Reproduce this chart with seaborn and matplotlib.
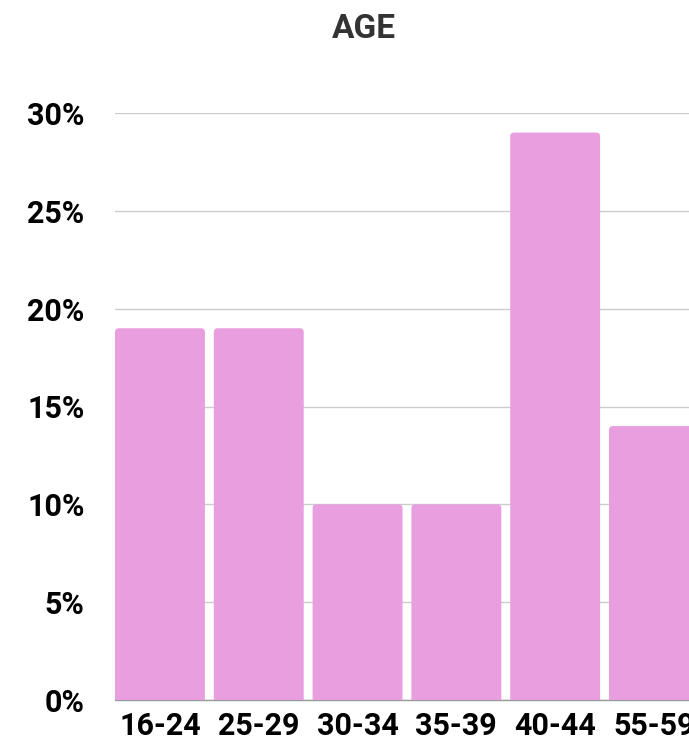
import matplotlib
matplotlib.use("Agg")
import matplotlib.pyplot as plt
import seaborn as sns
import pandas as pd
from matplotlib.patches import FancyBboxPatch
from matplotlib.ticker import FuncFormatter

categories = ["16-24", "25-29", "30-34", "35-39", "40-44", "55-59"]
values = [19, 19, 10, 10, 29, 14]
yticks = [0, 5, 10, 15, 20, 25, 30]

sns.set_theme(style="white")
plt.rcParams["font.family"] = ["Roboto", "DejaVu Sans"]

df = pd.DataFrame({"age": categories, "pct": values})

fig = plt.figure(figsize=(6.89, 7.40), dpi=100)
W, H = 689, 740
left_px, base_px, top_px = 115, 700, 113
unit_px = 98.8
ax = fig.add_axes([left_px / W, (H - base_px) / H, 7 * unit_px / W, (base_px - top_px) / H])

color = "#E89EDF"
sns.barplot(data=df, x="age", y="pct", color=color, width=0.91, ax=ax, saturation=1)
ax.set_xlim(-0.455, 6.545)
ax.set_ylim(0, 30)

# replace bars with rounded-top bars
bars = list(ax.patches)
r_px = 4
r_x = r_px / unit_px
r_y = r_px / ((base_px - top_px) / 30)
for p in bars:
    x0, w, h = p.get_x(), p.get_width(), p.get_height()
    p.set_visible(False)
    fb = FancyBboxPatch((x0, -2), w, h + 2,
                        boxstyle=f"round,pad=0,rounding_size={r_x}",
                        mutation_aspect=r_y / r_x,
                        facecolor=color, edgecolor="none", zorder=3)
    ax.add_patch(fb)

ax.set_yticks(yticks)
ax.yaxis.set_major_formatter(FuncFormatter(lambda v, _: f"{int(v)}%"))
ax.grid(axis="y", color="#cccccc", linewidth=1, zorder=0)
ax.set_axisbelow(True)
for s in ["top", "right", "left"]:
    ax.spines[s].set_visible(False)
ax.spines["bottom"].set_color("#999999")
ax.spines["bottom"].set_linewidth(1)
ax.spines["bottom"].set_zorder(1)
ax.tick_params(axis="both", length=0, labelsize=22, colors="black")
ax.tick_params(axis="y", pad=22)
ax.tick_params(axis="x", pad=8)
for lbl in ax.get_xticklabels() + ax.get_yticklabels():
    lbl.set_fontweight("bold")
ax.set_xlabel("")
ax.set_ylabel("")

fig.text(364 / W, 1 - 29 / H, "AGE", ha="center", va="center",
         fontsize=24, fontweight="bold", color="#333333")

fig.savefig("out.png", dpi=100)
